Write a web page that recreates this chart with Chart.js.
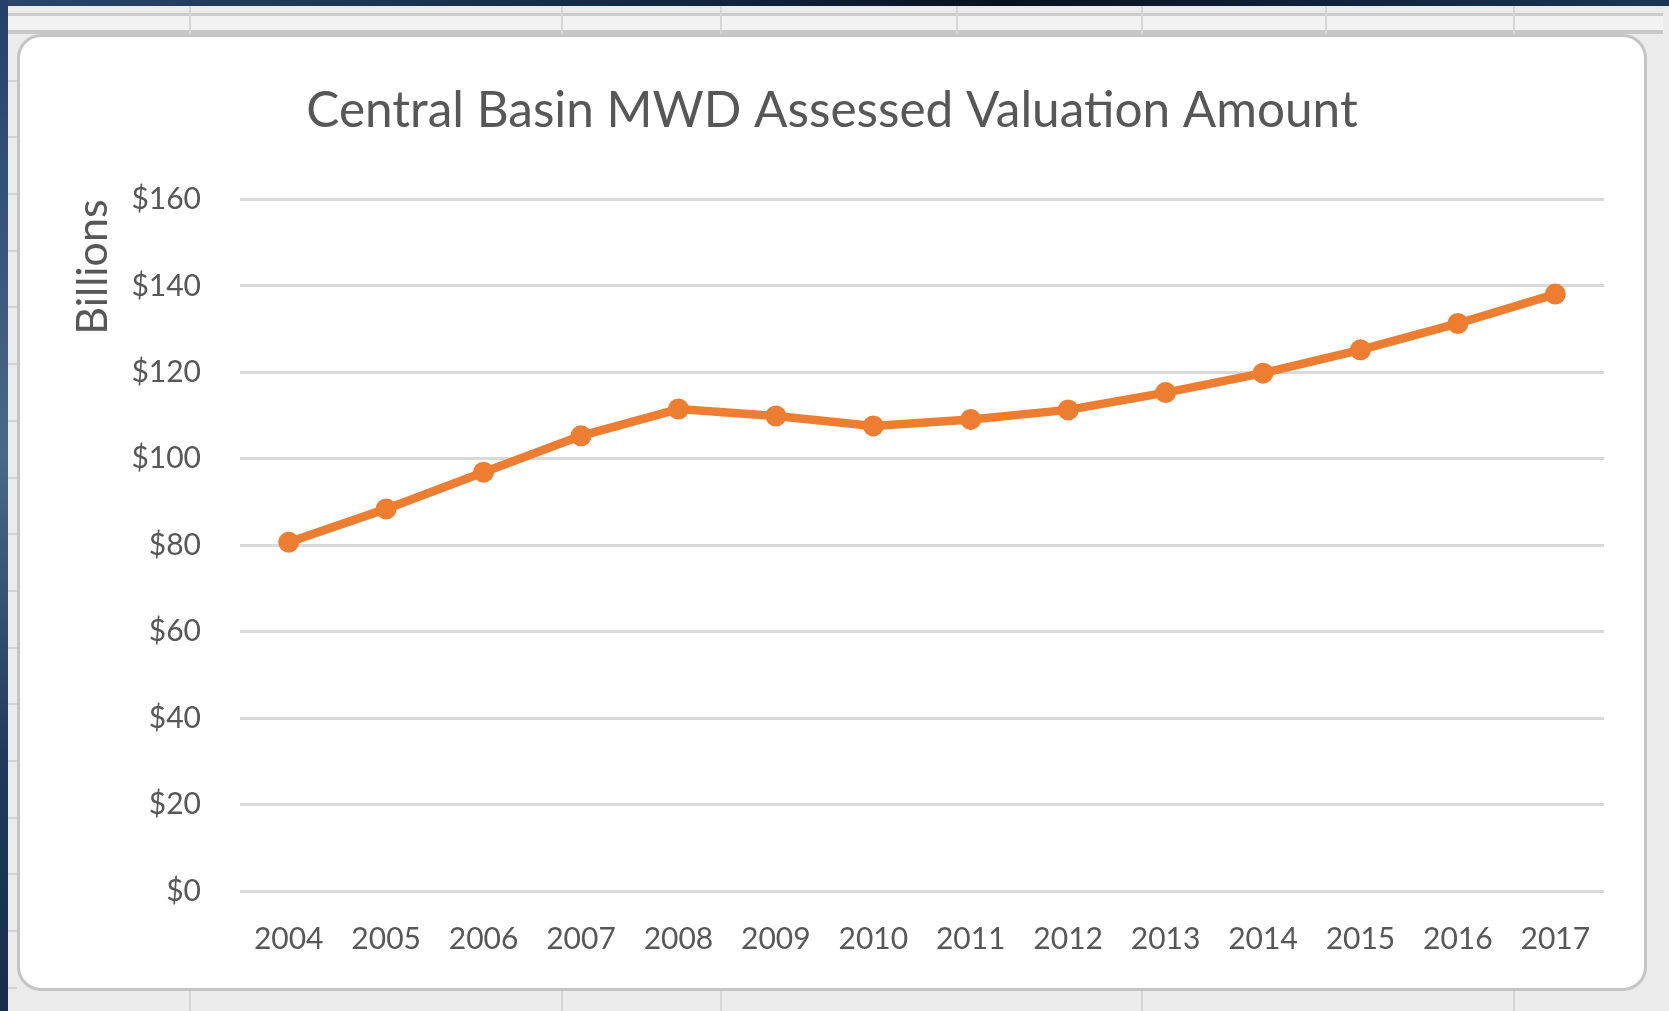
<!DOCTYPE html>
<html>
<head>
<meta charset="utf-8">
<script src="https://cdn.jsdelivr.net/npm/chart.js@4.4.1/dist/chart.umd.min.js"></script>
<style>
    html, body { margin: 0; padding: 0; }
    body {
        width: 1669px; height: 1011px; overflow: hidden; position: relative;
        background: linear-gradient(90deg, #2b4668 0%, #10233a 45%, #06121f 60%, #1d3554 100%);
    }
    .navy-left {
        position: absolute; left: 0; top: 0; width: 8px; height: 1011px;
        background: linear-gradient(180deg, #24406a 0%, #4a6887 45%, #1f3a5c 75%, #172d4b 100%);
    }
    .sheet {
        position: absolute; left: 8px; top: 6px; right: 0; bottom: 0;
        background: #ebebeb;
    }
    .rows {
        position: absolute; left: 8px; top: 6px; width: 9px; bottom: 0;
        background: repeating-linear-gradient(180deg, transparent 0 17px, #d2d2d2 17px 19px, transparent 19px 56.7px);
    }
    .strip {
        position: absolute; left: 8px; right: 6px; top: 13px; height: 21px;
        background: #f2f2f2;
        border-top: 3px solid #cbcbcb;
        border-bottom: 4px solid #c8c8c8;
        box-sizing: border-box;
    }
    .col {
        position: absolute; top: 6px; width: 2px; height: 28px; background: #d6d6d6;
    }
    .col.b { top: 990px; height: 21px; }
    .box {
        position: absolute; left: 17px; top: 34px; width: 1630px; height: 957px;
        box-sizing: border-box;
        border: 3px solid #c4c4c4; border-radius: 24px;
        background: #ffffff; overflow: hidden;
    }
    #chart { position: absolute; left: 0; top: 0; }
</style>
</head>
<body>
<div class="navy-left"></div>
<div class="sheet"></div>
<div class="rows"></div>
<div class="strip"></div>
<div class="col" style="left:189px"></div>
<div class="col" style="left:561px"></div>
<div class="col" style="left:720px"></div>
<div class="col" style="left:956px"></div>
<div class="col" style="left:1141px"></div>
<div class="col" style="left:1325px"></div>
<div class="col" style="left:1513px"></div>
<div class="col b" style="left:189px"></div>
<div class="col b" style="left:561px"></div>
<div class="col b" style="left:720px"></div>
<div class="col b" style="left:1141px"></div>
<div class="col b" style="left:1513px"></div>
<div class="box"><canvas id="chart" width="1624" height="951"></canvas></div>
<script>
const years = ['2004', '2005', '2006', '2007', '2008', '2009', '2010',
    '2011', '2012', '2013', '2014', '2015', '2016', '2017'];
// assessed valuation, billions of dollars
const valuation = [80.7, 88.4, 96.9, 105.3, 111.5, 109.9, 107.6,
    109.1, 111.3, 115.3, 119.8, 125.2, 131.3, 138.1];
const yTicks = [0, 20, 40, 60, 80, 100, 120, 140, 160];

const chartTitle = 'Central Basin MWD Assessed Valuation Amount';
const yTitle = 'Billions';

const grey = '#575757';
const orange = '#ED7D31';
const face = "Lato, 'Open Sans', sans-serif";

const canvas = document.getElementById('chart');

new Chart(canvas, {
    type: 'line',
    data: {
        labels: years,
        datasets: [
            {
                label: 'Assessed Valuation',
                data: valuation,
                borderColor: orange,
                backgroundColor: orange,
                borderWidth: 8.5,
                pointRadius: 10.5,
                pointBorderWidth: 0,
                pointBackgroundColor: orange,
                tension: 0,
            },
        ],
    },
    options: {
        responsive: false,
        animation: false,
        // equal side padding keeps the title centred on the frame
        layout: { padding: { left: 40, right: 40, top: 0, bottom: 0 } },
        plugins: {
            legend: { display: false },
            tooltip: { enabled: false },
            title: {
                display: true,
                text: chartTitle,
                color: grey,
                font: { family: face, size: 49.5, weight: 'normal', lineHeight: 1.2 },
                padding: { top: 44, bottom: 59 },
            },
        },
        scales: {
            x: {
                offset: true,
                grid: { display: false, drawTicks: false },
                border: { display: false },
                afterFit: (axis) => { axis.height = 97; },
                ticks: {
                    color: grey,
                    padding: 30,
                    maxRotation: 0,
                    autoSkip: false,
                    font: { family: face, size: 30, lineHeight: 1.2 },
                },
            },
            y: {
                min: 0,
                max: 160,
                afterBuildTicks: (axis) => {
                    axis.ticks = yTicks.map((v) => ({ value: v }));
                },
                afterFit: (axis) => { axis.width = 180; },
                grid: { color: '#d9d9d9', lineWidth: 3, drawTicks: false },
                border: { display: false },
                ticks: {
                    color: grey,
                    padding: 39,
                    font: { family: face, size: 30 },
                    callback: (value) => `$${value}`,
                },
                title: {
                    display: true,
                    text: yTitle,
                    align: 'end',
                    color: grey,
                    font: { family: face, size: 43, lineHeight: 1 },
                    padding: { top: 12, bottom: 0 },
                },
            },
        },
    },
});
</script>
</body>
</html>
